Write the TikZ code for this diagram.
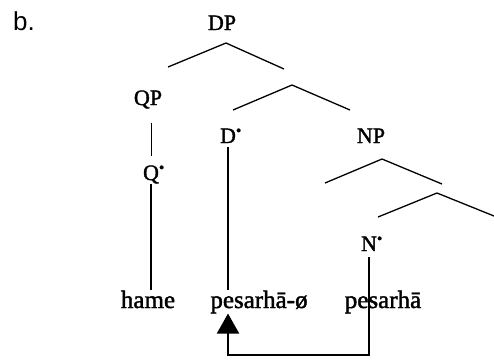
\documentclass[tikz,border=0pt]{standalone}
\usepackage{fontspec}
\setmainfont{Liberation Serif}[FakeBold=1.6]
\newfontfamily\heavyserif{Liberation Serif}[FakeBold=1.6]
\newfontfamily\labelsans{Liberation Sans}
\usetikzlibrary{arrows.meta}
\newcommand\dgdot{\rlap{\textsuperscript{\textbullet}}}
\begin{document}
\begin{tikzpicture}[x=1pt,y=-1pt,
  lab/.style={font=\heavyserif\fontsize{22}{26}\selectfont, inner sep=0pt, anchor=base},
  word/.style={font=\heavyserif\fontsize{25}{30}\selectfont, inner sep=0pt, anchor=base},
  branch/.style={line width=1.3pt},
  stem/.style={line width=2pt},
  thinstem/.style={line width=0.8pt}]
\useasboundingbox (0,0) rectangle (494,360);
% labels
\node[font=\labelsans\fontsize{26}{30}\selectfont, inner sep=0pt, anchor=base west] (b) at (13,30) {b.};
\node[lab] (DP) at (222,30) {DP};
\node[lab] (QP) at (148,105) {QP};
\node[lab] (D) at (228,143) {D\dgdot};
\node[lab] (NP) at (371,143) {NP};
\node[lab] (Q) at (151,180) {Q\dgdot};
\node[lab] (N) at (369,251) {N\dgdot};
\node[word] (w1) at (148,308) {hame};
\node[word] (w2) at (259,308) {pesarhā-ø};
\node[word] (w3) at (383,308) {pesarhā};
% branch coordinates
\coordinate (dpA) at (226,43);
\coordinate (dpL) at (168,67);
\coordinate (dpR) at (284,69);
\coordinate (xA) at (292,85);
\coordinate (xL) at (233,110);
\coordinate (xR) at (350,110);
\coordinate (npA) at (382,159);
\coordinate (npL) at (325,183);
\coordinate (npR) at (442,184);
\coordinate (yA) at (437,193);
\coordinate (yL) at (378,217);
\coordinate (yR) at (494,216);
\draw[branch] (dpL) -- (dpA) -- (dpR);
\draw[branch] (xL) -- (xA) -- (xR);
\draw[branch] (npL) -- (npA) -- (npR);
\draw[branch] (yL) -- (yA) -- (yR);
% vertical stems
\draw[thinstem, shorten <=14pt, shorten >=9pt] (QP.south -| Q.north) -- (Q.north);
\draw[stem] (Q.south) -- (Q.south |- w1.north);
\draw[stem] ([yshift=-4pt]D.south) -- (D.south |- w2.north);
\draw[stem, -{Triangle[width=22pt,length=20pt]}] ([yshift=-6pt]N.south) -- ++(0,98) -| (D.south |- w2.south);
\end{tikzpicture}
\end{document}
